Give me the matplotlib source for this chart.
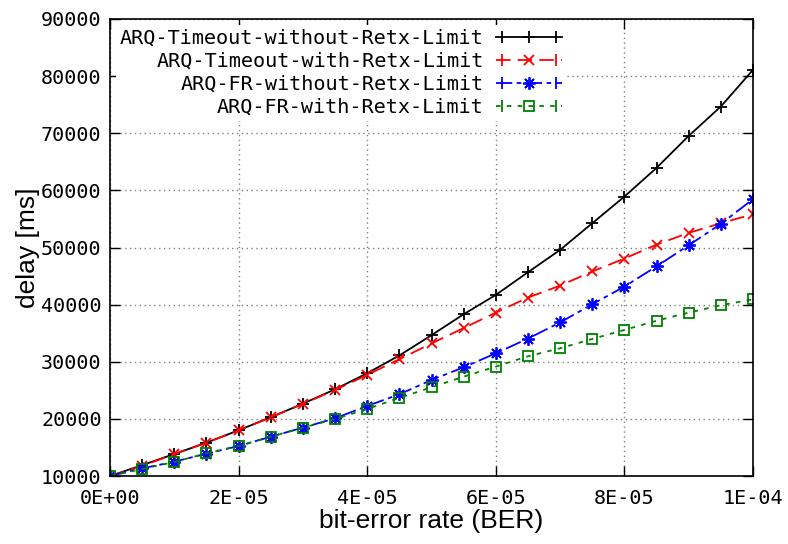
import matplotlib
matplotlib.use("Agg")
import matplotlib.pyplot as plt
from matplotlib.lines import Line2D
from matplotlib.legend_handler import HandlerLine2D, HandlerTuple

ber = [i * 5e-6 for i in range(21)]
timeout_no_limit = [10000, 11900, 13850, 15830, 18000, 20280, 22660, 25180, 27990, 31100,
                    34650, 38320, 41700, 45670, 49580, 54250, 58910, 63940, 69540, 74680, 81100]
timeout_limit = [10000, 11750, 13850, 15830, 18000, 20280, 22620, 25060, 27700, 30440,
                 33200, 35900, 38600, 41230, 43330, 45800, 48060, 50510, 52560, 54250, 55830]
fr_no_limit = [10000, 11340, 12500, 13910, 15250, 16880, 18460, 20100, 22260, 24300,
               26810, 29030, 31480, 34050, 36880, 40070, 43150, 46700, 50400, 54130, 58460]
fr_limit = [10000, 11230, 12450, 13970, 15250, 16880, 18460, 19980, 21730, 23680,
            25530, 27390, 29150, 30960, 32360, 33990, 35570, 37180, 38600, 39890, 40940]

labels = ["ARQ-Timeout-without-Retx-Limit", "ARQ-Timeout-with-Retx-Limit",
          "ARQ-FR-without-Retx-Limit", "ARQ-FR-with-Retx-Limit"]
xticks = [0, 2e-5, 4e-5, 6e-5, 8e-5, 1e-4]
xticklabels = ["0E+00", "2E-05", "4E-05", "6E-05", "8E-05", "1E-04"]
yticks = [10000, 20000, 30000, 40000, 50000, 60000, 70000, 80000, 90000]

mono = "DejaVu Sans Mono"
sans = "Liberation Sans"

fig = plt.figure(figsize=(7.88, 5.44), dpi=100)
ax = fig.add_axes([110 / 788, 1 - 476 / 544, (753 - 110) / 788, (476 - 19) / 544])

styles = [
    dict(color="black", ls="-", marker="+", ms=9, mew=1.3),
    dict(color="#ff0000", ls=(0, (8, 4)), marker="x", ms=7, mew=1.3),
    dict(color="#0000ff", ls=(0, (9, 2.5, 2.5, 2.5)), marker=(8, 2, 0), ms=9, mew=1.3),
    dict(color="#008000", ls=(0, (2.5, 3.5)), marker="s", ms=6.5, mew=1.3, mfc="none"),
]
series = [timeout_no_limit, timeout_limit, fr_no_limit, fr_limit]

handles = []
hmap = {tuple: HandlerTuple(ndivide=1, pad=0)}
for ys, st, lab in zip(series, styles, labels):
    ax.plot(ber, ys, lw=1.3, zorder=3, **st)
    main = Line2D([], [], lw=1.3, **st)
    cap = Line2D([], [], color=st["color"], ls="none", marker="|", ms=9, mew=1.3)
    hmap[cap] = HandlerLine2D(numpoints=2)
    handles.append((main, cap))

leg = ax.legend(handles, labels, handler_map=hmap,
                loc="upper left", bbox_to_anchor=(0.0, 1.0), markerfirst=False,
                frameon=True, fancybox=False, edgecolor="none", facecolor="white", framealpha=1,
                prop={"family": mono, "size": 14.5}, handlelength=3.3, handletextpad=0.6,
                labelspacing=0.2, borderpad=0.2, borderaxespad=0.3, numpoints=1)
for t in leg.get_texts():
    t.set_ha("right")
leg._legend_box.align = "right"
leg.set_zorder(4)

ax.set_xlim(0, 1e-4)
ax.set_ylim(10000, 90000)
ax.set_xticks(xticks)
ax.set_xticklabels(xticklabels)
ax.set_yticks(yticks)
ax.set_yticklabels([str(v) for v in yticks])
for lbl in ax.get_xticklabels() + ax.get_yticklabels():
    lbl.set_fontfamily(mono)
    lbl.set_fontsize(14.5)

ax.tick_params(direction="in", length=7, width=1, top=True, right=True, pad=6)
ax.tick_params(axis="x", pad=9)
ax.grid(True, color="#808080", ls=(0, (1, 2.5)), lw=1)
for s in ax.spines.values():
    s.set_linewidth(1.2)
    s.set_zorder(5)

ax.set_xlabel("bit-error rate (BER)", family=sans, fontsize=19, labelpad=1)
ax.set_ylabel("delay [ms]", family=sans, fontsize=19, labelpad=1)

fig.savefig("out.png", dpi=100)
